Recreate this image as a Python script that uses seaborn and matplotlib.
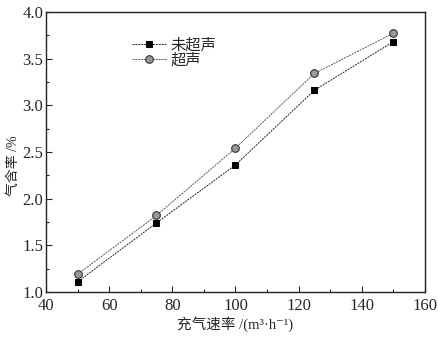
import pandas as pd
import numpy as np
import matplotlib
matplotlib.use('Agg')
import matplotlib.pyplot as plt
import seaborn as sns
from matplotlib.ticker import MultipleLocator

rate = [50, 75, 100, 125, 150]
no_us = [1.11, 1.74, 2.36, 3.16, 3.68]
us = [1.19, 1.82, 2.54, 3.34, 3.77]
labels = ['未超声', '超声']

sns.set_style('ticks')
plt.rcParams['font.family'] = ['Liberation Serif', 'Noto Sans CJK SC', 'DejaVu Serif']
plt.rcParams['xtick.direction'] = 'in'
plt.rcParams['ytick.direction'] = 'in'

df = pd.DataFrame({'rate': rate * 2,
                   'gas': no_us + us,
                   'group': [labels[0]] * 5 + [labels[1]] * 5})

fig = plt.figure(figsize=(4.38, 3.38), dpi=100)
ax = fig.add_axes([0.105, 0.136, 0.865, 0.829])

sns.lineplot(data=df[df.group == labels[0]], x='rate', y='gas', ax=ax,
             color='#222222', lw=0.7, ls=(0, (2, 1)), marker='s', ms=5,
             mfc='black', mec='black', label=labels[0])
sns.lineplot(data=df[df.group == labels[1]], x='rate', y='gas', ax=ax,
             color='#555555', lw=0.7, ls=(0, (2, 1)), marker='o', ms=5.5,
             mfc='#999999', mec='#333333', mew=0.8, label=labels[1])

ax.set_xlim(40, 160)
ax.set_ylim(1.0, 4.0)
ax.xaxis.set_major_locator(MultipleLocator(20))
ax.xaxis.set_minor_locator(MultipleLocator(10))
ax.yaxis.set_major_locator(MultipleLocator(0.5))
ax.yaxis.set_minor_locator(MultipleLocator(0.25))
ax.set_yticks(np.arange(1.0, 4.01, 0.5))
ax.set_yticklabels(['%.1f' % v for v in np.arange(1.0, 4.01, 0.5)])
ax.tick_params(which='major', length=4, width=0.8, labelsize=12)
ax.tick_params(axis='x', pad=4)
ax.tick_params(axis='y', pad=2)
ax.tick_params(which='minor', length=2, width=0.8)
for s in ax.spines.values():
    s.set_linewidth(1.0)
    s.set_color('#222222')

ax.set_xlabel('充气速率 /(m³·h⁻¹)', fontsize=10.5, labelpad=2)
ax.set_ylabel('气含率 /%', fontsize=10)
ax.yaxis.set_label_coords(-0.068, 0.45)

leg = ax.legend(loc='upper left', bbox_to_anchor=(0.2, 0.945), frameon=False,
                fontsize=11, handlelength=2.2, handletextpad=0.3,
                labelspacing=0.05, borderpad=0.2)

fig.savefig('out.png', dpi=100)
